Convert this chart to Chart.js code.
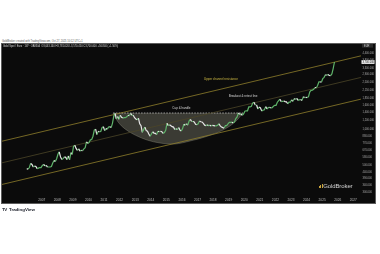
<!DOCTYPE html>
<html>
<head>
<meta charset="utf-8">
<script src="https://cdn.jsdelivr.net/npm/chart.js@4.4.1/dist/chart.umd.min.js"></script>
<style>
    html, body { margin: 0; padding: 0; background: #fff; }
    body { width: 380px; height: 254px; position: relative; overflow: hidden; font-family: 'Liberation Sans', Arial, sans-serif; }
    .stamp { position: absolute; left: 2px; top: 39.5px; font-size: 2.6px; color: #555; white-space: nowrap; }
    .panel { position: absolute; left: 2px; top: 44px; width: 373px; height: 159px; background: #0b0b0b; outline: 1px solid #5c5c5c; }
    .symbol { position: absolute; left: 1px; top: 1.2px; font-size: 2.6px; color: #d6d6d6; white-space: nowrap; z-index: 2; }
    .brand { position: absolute; left: 317px; top: 139px; font-size: 6px; color: #d2d2d2; white-space: nowrap; z-index: 2; letter-spacing: -0.1px; }
    .brand i { display: inline-block; width: 1px; background: #c9a43c; margin-right: 0.4px; vertical-align: baseline; }
    .tv { position: absolute; left: 2px; top: 206.5px; font-size: 4.4px; font-weight: bold; color: #131722; white-space: nowrap; }
    .tv b { letter-spacing: -0.4px; margin-right: 1px; }
</style>
</head>
<body>
<div class="stamp">GoldBroker created with TradingView.com, Oct 27, 2025 10:12 UTC+1</div>
<div class="panel">
    <div class="symbol">Gold Spot / Euro · 1W · OANDA &nbsp;O3,643.160 H3,781.020 L3,570.450 C3,700.000 +56.840 (+1.56%)</div>
    <canvas id="goldChart"></canvas>
    <div class="brand"><i style="height:1.6px"></i><i style="height:2.6px"></i><i style="height:3.6px"></i>GoldBroker</div>
</div>
<div class="tv"><b>TV</b> TradingView</div>

<script>
// Monthly gold closes in EUR, Jan 2006 -> Oct 2025
const firstYear = 2006;
const goldEur = [
    470, 465, 480, 520, 510, 485, 495, 490, 470, 475, 480, 480,
    500, 510, 495, 500, 485, 485, 485, 490, 525, 550, 540, 570,
    620, 650, 590, 560, 570, 590, 585, 560, 600, 560, 640, 620,
    720, 740, 695, 670, 690, 660, 670, 665, 690, 705, 790, 765,
    780, 820, 825, 880, 990, 1010, 910, 965, 960, 965, 1040, 1060,
    980, 1020, 1010, 1050, 1060, 1040, 1130, 1300, 1370, 1230, 1290, 1220,
    1320, 1270, 1250, 1260, 1260, 1280, 1320, 1310, 1370, 1320, 1320, 1260,
    1230, 1210, 1250, 1120, 1080, 950, 1000, 1050, 980, 970, 920, 880,
    920, 960, 935, 930, 910, 970, 960, 970, 960, 930, 945, 985,
    1130, 1080, 1100, 1080, 1060, 1050, 1000, 1020, 1000, 1040, 990, 975,
    1020, 1110, 1090, 1120, 1090, 1180, 1220, 1170, 1170, 1160, 1110, 1100,
    1120, 1180, 1165, 1160, 1130, 1090, 1080, 1100, 1080, 1090, 1075, 1085,
    1080, 1075, 1075, 1090, 1120, 1075, 1050, 1040, 1030, 1080, 1080, 1120,
    1150, 1150, 1155, 1140, 1160, 1240, 1280, 1380, 1345, 1355, 1320, 1355,
    1430, 1440, 1440, 1550, 1550, 1570, 1670, 1700, 1610, 1610, 1490, 1550,
    1520, 1430, 1460, 1470, 1560, 1490, 1530, 1540, 1520, 1530, 1570, 1600,
    1600, 1700, 1750, 1800, 1720, 1730, 1740, 1720, 1710, 1650, 1700, 1700,
    1780, 1730, 1820, 1800, 1830, 1760, 1780, 1790, 1760, 1890, 1860, 1870,
    1860, 1890, 2080, 2140, 2150, 2180, 2260, 2250, 2350, 2520, 2520, 2510,
    2680, 2750, 2890, 2860, 2900, 2850, 2840, 2940, 3260, 3700
];

// Long-term channel (straight on the log scale)
const channelYears = [2004.45, 2027.49];
const channelTop = [799, 4168];
const channelMid = [526, 2745];
const channelBottom = [346, 1804];

// Rounded base ("cup") under the 2011 high
const cupYears = [2011.58, 2011.90, 2012.35, 2012.99, 2013.76, 2014.59, 2015.56, 2016.52, 2017.48, 2018.64, 2019.41, 2019.92];
const cupValues = [1379, 1158, 1012, 901, 818, 772, 757, 802, 867, 992, 1158, 1379];
const cupRim = 1379;

// Axis ticks
const yearTicks = [2007, 2008, 2009, 2010, 2011, 2012, 2013, 2014, 2015, 2016, 2017, 2018, 2019, 2020, 2021, 2022, 2023, 2024, 2025, 2026, 2027];
const priceTicks = [4400, 3800, 3300, 2900, 2500, 2150, 1850, 1600, 1400, 1200, 1000, 880, 770, 670, 580, 500, 440, 390, 340, 300];

const notes = [
    { text: 'Upper channel resistance', year: 2018.51, value: 2661, color: '#d2bd45' },
    { text: 'Breakout & retest line', year: 2019.92, value: 1927, color: '#d8d8d8' },
    { text: 'Cup & handle', year: 2015.97, value: 1504, color: '#d8d8d8' }
];

const fmt = v => v.toLocaleString('en-US', { minimumFractionDigits: 3, maximumFractionDigits: 3 });

const pricePoints = goldEur.map((v, i) => ({ x: firstYear + (i + 0.5) / 12, y: v }));
const toPoints = (xs, ys) => xs.map((x, i) => ({ x: x, y: ys[i] }));

const overlay = {
    id: 'overlay',
    afterDatasetsDraw(chart) {
        const { ctx, scales: { x, y } } = chart;
        ctx.save();
        ctx.font = '3px "Liberation Sans", Arial, sans-serif';
        ctx.textAlign = 'center';
        ctx.textBaseline = 'middle';
        notes.forEach(n => {
            ctx.fillStyle = n.color;
            ctx.fillText(n.text, x.getPixelForValue(n.year), y.getPixelForValue(n.value));
        });

        // currency tag + last price tag on the price scale
        const left = chart.chartArea.right;
        ctx.fillStyle = '#2a2a2a';
        ctx.fillRect(left + 1, 0, 11, 3.6);
        ctx.fillStyle = '#cfcfcf';
        ctx.font = '2.6px "Liberation Sans", Arial, sans-serif';
        ctx.textAlign = 'left';
        ctx.fillText('EUR', left + 3, 1.9);

        const last = goldEur[goldEur.length - 1];
        const py = y.getPixelForValue(last);
        ctx.fillStyle = '#f2f2f2';
        ctx.fillRect(left + 0.5, py - 1.9, 13, 3.8);
        ctx.fillStyle = '#111';
        ctx.fillText(fmt(last), left + 1.5, py + 0.1);
        ctx.restore();
    }
};

new Chart(document.getElementById('goldChart'), {
    type: 'line',
    data: {
        datasets: [
            {
                data: pricePoints,
                borderWidth: 1.2,
                borderColor: '#e6e6e6',
                pointRadius: 0,
                tension: 0,
                order: 0,
                segment: {
                    borderColor: c => c.p1.parsed.y >= c.p0.parsed.y ? '#5fb36a' : '#e6e6e6'
                }
            },
            {
                data: toPoints(channelYears, channelTop),
                borderColor: '#8f7f2c', borderWidth: 0.8, pointRadius: 0, order: 3
            },
            {
                data: toPoints(channelYears, channelMid),
                borderColor: '#4c4628', borderWidth: 0.8, pointRadius: 0, order: 3
            },
            {
                data: toPoints(channelYears, channelBottom),
                borderColor: '#8f7f2c', borderWidth: 0.8, pointRadius: 0, order: 3
            },
            {
                data: toPoints(cupYears, cupValues),
                borderColor: 'rgba(170,170,150,0.5)', borderWidth: 0.6,
                backgroundColor: 'rgba(140,140,120,0.38)',
                fill: { value: cupRim },
                pointRadius: 0, tension: 0.35, order: 5
            },
            {
                data: [{ x: cupYears[0], y: cupRim }, { x: cupYears[cupYears.length - 1], y: cupRim }],
                borderColor: '#cfcfcf', borderWidth: 0.7, borderDash: [1.6, 1.2],
                pointRadius: 0, order: 4
            }
        ]
    },
    options: {
        responsive: true,
        maintainAspectRatio: false,
        animation: false,
        events: [],
        layout: { padding: { top: 3, left: 0, right: 0, bottom: 0 } },
        plugins: { legend: { display: false }, tooltip: { enabled: false } },
        scales: {
            x: {
                type: 'linear',
                min: 2004.452,
                max: 2027.494,
                grid: { display: false, drawTicks: false },
                border: { display: false },
                afterBuildTicks: s => { s.ticks = yearTicks.map(v => ({ value: v })); },
                afterFit: s => { s.height = 7; },
                ticks: {
                    color: '#bdbdbd',
                    font: { size: 3.2, family: 'Liberation Sans' },
                    padding: 2,
                    maxRotation: 0,
                    autoSkip: false,
                    callback: v => String(v)
                }
            },
            y: {
                type: 'logarithmic',
                position: 'right',
                min: 276.8,
                max: 4941,
                grid: { display: false, drawTicks: false },
                border: { display: false },
                afterBuildTicks: s => { s.ticks = priceTicks.map(v => ({ value: v })); },
                afterFit: s => { s.width = 14; },
                ticks: {
                    color: '#ababab',
                    font: { size: 2.6, family: 'Liberation Sans' },
                    padding: 1.5,
                    autoSkip: false,
                    callback: v => fmt(v)
                }
            }
        }
    },
    plugins: [overlay]
});
</script>
</body>
</html>
